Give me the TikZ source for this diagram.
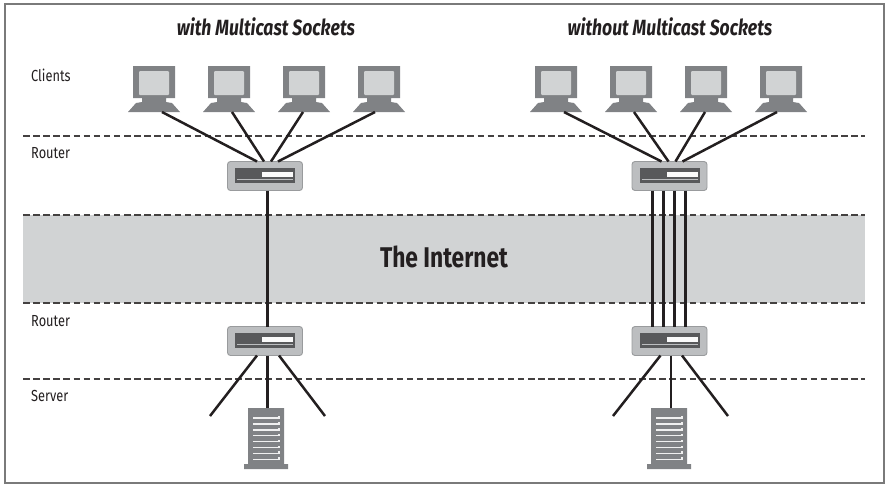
\documentclass[tikz,border=0pt]{standalone}
\usepackage{fontspec}
\setmainfont[FakeStretch=0.8]{Fira Sans}
\usetikzlibrary{calc}
\definecolor{bandgray}{HTML}{D1D3D4}
\definecolor{devgray}{HTML}{808285}
\definecolor{routerbody}{HTML}{BCBEC0}
\definecolor{routerpanel}{HTML}{58595B}
\definecolor{framegray}{HTML}{7A7A7A}
\definecolor{ink}{HTML}{231F20}
\tikzset{
  x=1pt,y=-1pt,
  wire/.style={draw=ink,line width=2.5pt},
  dashline/.style={draw=ink!85,line width=1.1pt,dash pattern=on 6.5pt off 3.6pt},
  lbl/.style={font=\fontsize{16}{18}\selectfont,text=ink,anchor=west,inner sep=0pt},
  heading/.style={font=\fontsize{22}{24}\bfseries\itshape\selectfont,text=ink,inner sep=0pt},
}
% name, x centre of computer
\newcommand{\computerat}[2]{%
  \begin{scope}[shift={(#2,0)}]
    \fill[devgray] (-21,66) -- (21,66) -- (21,98) -- (12,98) -- (12,102) -- (18,103) -- (26,112) -- (-26,112) -- (-18,103) -- (-12,102) -- (-12,98) -- (-21,98) -- cycle;
    \fill[bandgray,rounded corners=1pt] (-15,71) rectangle (15,95);
    \node[minimum width=52pt,minimum height=46pt,inner sep=0pt,outer sep=0pt] (#1) at (0,89) {};
  \end{scope}}
% name, x centre, y top
\newcommand{\routerat}[3]{%
  \node[draw=devgray!80,fill=routerbody,line width=0.9pt,rounded corners=3pt,minimum width=75pt,minimum height=29pt,inner sep=0pt,outer sep=0pt] (#1) at (#2,#3+15) {};
  \begin{scope}[shift={(#2,#3)}]
    \fill[routerpanel] (-30,7) rectangle (30,22);
    \fill[white!92!routerbody] (-3,10.5) rectangle (28,15.5);
    \draw[routerbody,line width=0.6pt] (-28,18) -- (28,18);
  \end{scope}}
\newcommand{\serverat}[2]{%
  \begin{scope}[shift={(#2,0)}]
    \fill[devgray] (-18,408) rectangle (18,464) (-22,464) rectangle (22,469);
    \foreach \yy in {417,422.9,...,459}{
      \draw[white!88!devgray,line width=1.4pt] (-13,\yy+1) -- (13,\yy+1) -- (13,\yy-1);
    }
    \node[minimum width=44pt,minimum height=61pt,inner sep=0pt,outer sep=0pt] (#1) at (0,438.5) {};
  \end{scope}}
\begin{document}
\begin{tikzpicture}
\useasboundingbox (0,0) rectangle (889,488);
\draw[framegray,line width=1.2pt] (5,4) rectangle (884,483);
% band
\fill[bandgray] (23,215) rectangle (865,303);
\coordinate (d1a) at (23,136); \coordinate (d1b) at (865,136);
\coordinate (d2a) at (23,215); \coordinate (d2b) at (865,215);
\coordinate (d3a) at (23,303); \coordinate (d3b) at (865,303);
\coordinate (d4a) at (23,379); \coordinate (d4b) at (865,379);
\draw[dashline] (d1a) -- (d1b);
\draw[dashline] (d2a) -- (d2b);
\draw[dashline] (d3a) -- (d3b);
\draw[dashline] (d4a) -- (d4b);
% texts
\node[heading] (h1) at (266,27) {with Multicast Sockets};
\node[heading] (h2) at (670,27) {without Multicast Sockets};
\node[lbl] (t1) at (31,75) {Clients};
\node[lbl] (t2) at (31,153) {Router};
\node[lbl] (t3) at (31,321) {Router};
\node[lbl] (t4) at (31,396) {Server};
\node[font=\fontsize{28.5}{30}\bfseries\selectfont,text=ink,inner sep=0pt] (inet) at (444,257) {The Internet};
% devices
\computerat{a1}{154}\computerat{a2}{229}\computerat{a3}{304}\computerat{a4}{379}
\computerat{b1}{556}\computerat{b2}{631}\computerat{b3}{706}\computerat{b4}{781}
\routerat{ra}{265}{161}
\routerat{rb}{669.5}{161}
\routerat{rc}{265}{326}
\routerat{rd}{669.5}{326}
\serverat{sa}{266}
\serverat{sb}{669}
% upper fans
\draw[wire] ([xshift=8]a1.south) -- ([xshift=-8]ra.north);
\draw[wire] ([xshift=3]a2.south) -- ([xshift=-1]ra.north);
\draw[wire] ([xshift=-1]a3.south) -- ([xshift=6]ra.north);
\draw[wire] ([xshift=-4]a4.south) -- ([xshift=13]ra.north);
\draw[wire] ([xshift=8]b1.south) -- ([xshift=-8]rb.north);
\draw[wire] ([xshift=3]b2.south) -- ([xshift=-1]rb.north);
\draw[wire] ([xshift=-1]b3.south) -- ([xshift=6]rb.north);
\draw[wire] ([xshift=-4]b4.south) -- ([xshift=13]rb.north);
% through the internet
\draw[wire] ([xshift=2.5]ra.south) -- ([xshift=2.5]rc.north);
\draw[wire] ([xshift=-17]rb.south) -- ([xshift=-17]rd.north);
\draw[wire] ([xshift=-6]rb.south) -- ([xshift=-6]rd.north);
\draw[wire] ([xshift=5]rb.south) -- ([xshift=5]rd.north);
\draw[wire] ([xshift=16]rb.south) -- ([xshift=16]rd.north);
% lower fans
\coordinate (fa1) at (210,416); \coordinate (fa2) at (325,416);
\coordinate (fb1) at (613,416); \coordinate (fb2) at (728,416);
\draw[wire] ([xshift=-8]rc.south) -- (fa1);
\draw[wire] ([xshift=14]rc.south) -- (fa2);
\draw[wire] ([xshift=2.5]rc.south) -- ([xshift=1.5]sa.north);
\draw[wire] ([xshift=-9]rd.south) -- (fb1);
\draw[wire] ([xshift=12.5]rd.south) -- (fb2);
\draw[wire] ([xshift=1.5]rd.south) -- ([xshift=2]sb.north);
\end{tikzpicture}
\end{document}
